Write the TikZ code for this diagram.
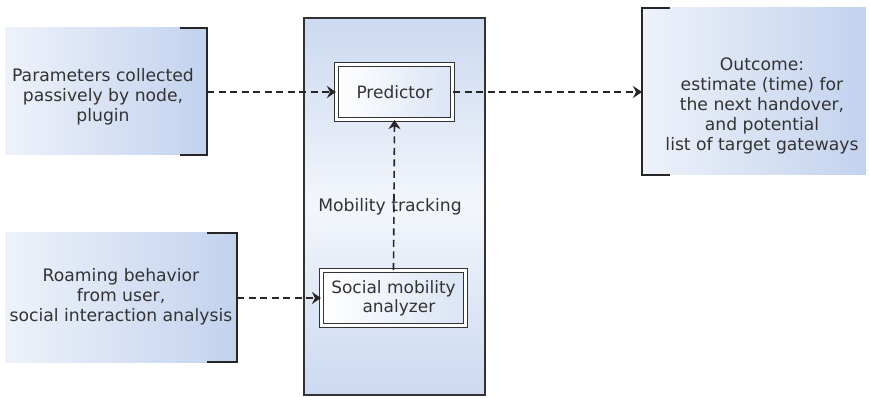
\documentclass[tikz,border=0pt]{standalone}
\usepackage{fontspec}
\setmainfont{DejaVu Sans}
\usetikzlibrary{arrows.meta}
\definecolor{txt}{HTML}{333333}
\definecolor{blueR}{HTML}{C2D2EE}
\definecolor{blueL}{HTML}{EEF2FA}
\definecolor{edge}{HTML}{333333}
\tikzset{
  infobox/.style={left color=blueL, right color=blueR, draw=none},
  bracket/.style={draw=black!85, line width=2.6pt},
  inner/.style={draw=edge, line width=1.1pt, double=white, double distance=2.6pt,
     left color=white, right color=blueR!60, align=center, text=txt,
     font=\fontsize{17}{19}\selectfont, inner sep=0pt},
  label/.style={text=txt, align=center, font=\fontsize{17.2}{20}\selectfont},
  flow/.style={draw=black!85, line width=1.6pt, dash pattern=on 7pt off 4.5pt,
     -{Stealth[length=9pt,width=12pt,inset=3pt]}},
}
\begin{document}
\begin{tikzpicture}[x=1pt,y=-1pt]
\useasboundingbox (0,0) rectangle (870,398);
% center container
\path[top color=blueR!85, bottom color=blueR!85, middle color=blueL!70, draw=edge, line width=1.2pt]
  (304,18) rectangle (485,395);
% left box 1
\fill[infobox] (5,28) rectangle (207,155);
\draw[bracket] (180,28) -- (207,28) -- (207,155) -- (180,155);
\coordinate (b1) at (207,92);
\node[label] (t1) at (103,97) {Parameters collected\\passively by node,\\plugin};
% left box 2
\fill[infobox] (5,233) rectangle (237,362);
\draw[bracket] (207,233) -- (237,233) -- (237,362) -- (207,362);
\coordinate (b2) at (237,298);
\node[label] (t2) at (121,297) {Roaming behavior\\from user,\\social interaction analysis};
% right box
\fill[infobox] (642,8) rectangle (866,175);
\draw[bracket] (670,8) -- (642,8) -- (642,175) -- (670,175);
\coordinate (b3) at (642,92);
\node[label] (t3) at (762,106) {Outcome:\\estimate (time) for\\the next handover,\\and potential\\list of target gateways};
% inner nodes
\node[inner, minimum width=116pt, minimum height=55pt] (pred) at (394.5,92) {Predictor};
\node[inner, minimum width=144pt, minimum height=55pt] (soc) at (393.5,298) {Social mobility\\\ \ analyzer};
\node[label] (mt) at (390,207) {Mobility tracking};
% connectors
\draw[flow] (b1) -- (pred.west);
\draw[flow] (pred.east) -- (b3);
\draw[flow] (b2) -- (soc.west);
\draw[flow] (soc.north) -- (pred.south);
\end{tikzpicture}
\end{document}
